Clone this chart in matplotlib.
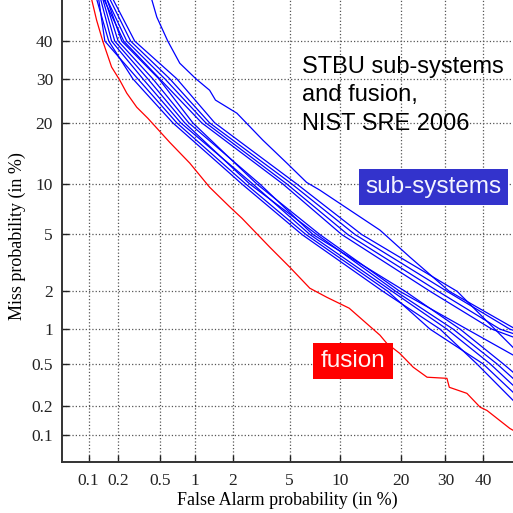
import numpy as np
import matplotlib
matplotlib.use("Agg")
import matplotlib.pyplot as plt
from statistics import NormalDist

# tick values (in %)
ticks_fa = [0.1, 0.2, 0.5, 1, 2, 5, 10, 20, 30, 40]
ticks_miss = [0.1, 0.2, 0.5, 1, 2, 5, 10, 20, 30, 40]
tick_labels = ["0.1", "0.2", "0.5", "1", "2", "5", "10", "20", "30", "40"]

# fusion curve (false alarm %, miss %)
fusion_fa = [0.105, 0.121, 0.140, 0.172, 0.207, 0.243, 0.303, 0.385, 0.609, 0.906, 1.32,
             1.90, 2.34, 3.70, 5.02, 6.69, 8.43, 11.2, 16.0, 17.2, 19.7, 22.5, 25.6, 30.4,
             31.0, 35.6, 39.2, 41.1, 47.6, 48.5]
fusion_miss = [53, 45.9, 40, 33.0, 29.7, 26.5, 23.3, 20.95, 16.3, 12.9, 9.6,
               7.4, 6.33, 4.12, 3.0, 2.11, 1.80, 1.48, 0.89, 0.76, 0.62, 0.466, 0.377, 0.368,
               0.303, 0.265, 0.194, 0.18, 0.118, 0.113]

# sub-system curves, read at the miss grid levels
miss_levels = [52, 40, 30, 20, 10, 5, 2, 1, 0.5]

L1_fa = [0.121, 0.161, 0.278, 0.648, 2.34, 5.98, 16.5, 28.7, 38.3, 48.5]
L1_miss = miss_levels + [0.227]
L2_fa = [0.127, 0.147, 0.310, 0.702, 2.50, 6.33, 17.4, 26.3, 40.0, 48.5]
L2_miss = miss_levels + [0.272]
L3_fa = [0.133, 0.172, 0.346, 0.760, 2.81, 6.69, 18.2, 30.4, 42.0, 48.5]
L3_miss = miss_levels + [0.317]
L4_fa = [0.140, 0.185, 0.385, 0.822, 2.67, 7.37, 18.9, 32.0, 43.9, 48.5]
L4_miss = miss_levels + [0.368]
L5_fa = [0.147, 0.200, 0.428, 0.889, 3.15, 6.98, 20.8, 33.8, 45.7, 48.5]
L5_miss = miss_levels + [0.42]
L6_fa = [0.154, 0.217, 0.486, 0.962, 3.00, 7.67, 19.7, 35.6, 48.5]
L6_miss = miss_levels[:8] + [0.60]

U1_fa = [0.143, 0.227, 0.495, 1.14, 4.52, 10.2, 26.3, 42.5, 48.5]
U1_miss = miss_levels[:8] + [0.86]
U2_fa = [0.154, 0.243, 0.55, 1.23, 4.80, 11.0, 28.2, 44.8, 48.5]
U2_miss = miss_levels[:8] + [0.92]
U3_fa = [0.165, 0.265, 0.609, 1.32, 5.17, 12.0, 30.4, 47.6, 48.5]
U3_miss = miss_levels[:8] + [0.98]
U4_fa = [0.177, 0.290, 0.702, 1.45, 5.56, 13.0, 33.0, 48.5]
U4_miss = miss_levels[:7] + [0.70]

O_fa = [0.42, 0.466, 0.585, 0.745, 1.02, 1.32, 1.47, 2.15, 3.31, 4.80, 6.4, 7.67, 11.3,
        16.0, 21.8, 31.0, 48.5]
O_miss = [51.7, 46.8, 40, 34.0, 30, 27.2, 24.9, 22.0, 16.7, 12.9, 10.2, 9.25, 7.08,
          5.33, 3.53, 2.0, 1.03]

subsystems = [(L1_fa, L1_miss), (L2_fa, L2_miss), (L3_fa, L3_miss), (L4_fa, L4_miss),
              (L5_fa, L5_miss), (L6_fa, L6_miss), (U1_fa, U1_miss), (U2_fa, U2_miss),
              (U3_fa, U3_miss), (U4_fa, U4_miss), (O_fa, O_miss)]

nd = NormalDist()
_ppf = np.vectorize(lambda p: nd.inv_cdf(min(max(p / 100.0, 1e-9), 1 - 1e-9)), otypes=[float])
_cdf = np.vectorize(lambda z: nd.cdf(z) * 100.0, otypes=[float])

def probit(p):
    return _ppf(np.asarray(p, dtype=float))

def unprobit(z):
    return _cdf(np.asarray(z, dtype=float))

fig = plt.figure(figsize=(5.13, 5.13), dpi=100)
ax = fig.add_axes([62 / 513, 51 / 513, 451 / 513, 462 / 513])
ax.set_xscale("function", functions=(probit, unprobit))
ax.set_yscale("function", functions=(probit, unprobit))

for fa, miss in subsystems:
    ax.plot(fa, miss, color="#0000ff", lw=0.9)
ax.plot(fusion_fa, fusion_miss, color="#ff0000", lw=0.9)

ax.set_xlim(0.0515, 48.5)
ax.set_ylim(0.0515, 51.7)
ax.set_xticks(ticks_fa)
ax.set_xticklabels(tick_labels)
ax.set_yticks(ticks_miss)
ax.set_yticklabels(tick_labels)
ax.minorticks_off()

serif = "Liberation Serif"
for lab in ax.get_xticklabels() + ax.get_yticklabels():
    lab.set_family(serif)
    lab.set_fontsize(12.5)
ax.tick_params(direction="in", length=5, width=1, colors="#222222")
ax.tick_params(axis="x", pad=8)
ax.tick_params(axis="y", pad=6.5)
ax.grid(True, linestyle=":", color="#555555", lw=0.9)

for s in ["top", "right"]:
    ax.spines[s].set_visible(False)
for s in ["left", "bottom"]:
    ax.spines[s].set_linewidth(1.4)
    ax.spines[s].set_color("#333333")

ax.set_xlabel("False Alarm probability (in %)", family=serif, fontsize=13)
ax.set_ylabel("Miss probability (in %)", family=serif, fontsize=13)
ax.xaxis.set_label_coords(0.5, -0.065)
ax.yaxis.set_label_coords(-0.08, 0.49)

fig.text(302 / 513, 1 - 56 / 513, "STBU sub-systems\nand fusion,\nNIST SRE 2006",
         family="Liberation Sans", fontsize=17, va="top", ha="left", linespacing=1.38)
fig.text(433.5 / 513, 1 - 187 / 513, "sub-systems", family="Liberation Sans", fontsize=17.5,
         color="#f4f4ff", ha="center", va="center",
         bbox=dict(boxstyle="square,pad=0.28", fc="#3333cc", ec="none"))
fig.text(353 / 513, 1 - 361 / 513, "fusion", family="Liberation Sans", fontsize=17.5,
         color="#fff4f4", ha="center", va="center",
         bbox=dict(boxstyle="square,pad=0.3", fc="#ff0000", ec="none"))

fig.savefig("out.png", dpi=100)
